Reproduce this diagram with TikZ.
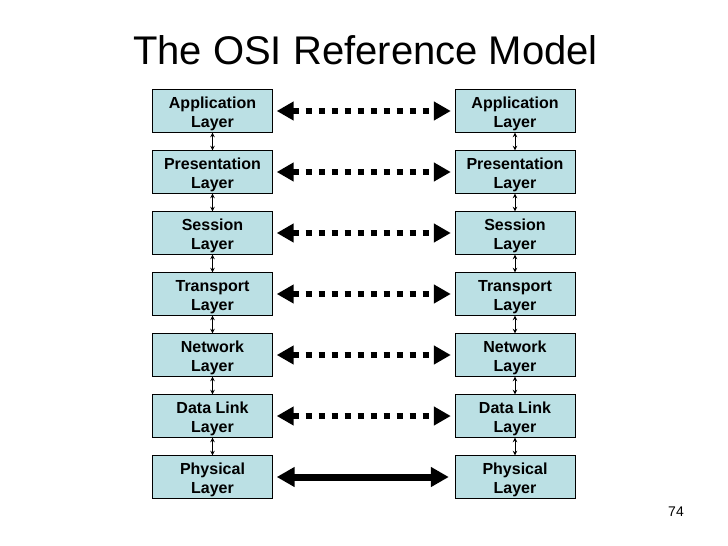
\documentclass[tikz,border=0pt]{standalone}
\usepackage{fontspec}
\setmainfont{Liberation Sans}
\usetikzlibrary{arrows.meta}
\definecolor{layerblue}{RGB}{187,224,228}
\tikzset{
 layer/.style={draw=black,fill=layerblue,minimum width=120pt,minimum height=43pt,inner sep=0pt},
 layertext/.style={align=center,inner sep=0pt,font=\fontsize{16}{19}\selectfont\bfseries},
 peer/.style={line width=6.5pt,dash pattern=on 6.5pt off 6.5pt,
   {Triangle[length=17pt,width=18pt]}-{Triangle[length=17pt,width=18pt]}},
 wire/.style={line width=7pt,
   {Triangle[length=18pt,width=19pt]}-{Triangle[length=18pt,width=19pt]}},
 stack/.style={line width=0.9pt,{Stealth[length=4.5pt,width=4.5pt]}-{Stealth[length=4.5pt,width=4.5pt]}}
}
\begin{document}
\begin{tikzpicture}[x=1pt,y=-1pt]
 \useasboundingbox[fill=white] (0,0) rectangle (728,546);
 \node[font=\fontsize{40}{48}\selectfont,anchor=base] (title) at (365.5,64) {The OSI Reference Model};
 % layers on both sides
 \foreach \n/\txt [count=\i from 0] in {app/Application,pres/Presentation,sess/Session,trans/Transport,net/Network,dl/Data Link,phys/Physical}{
  \node[layer] (l\n) at (212.5,111+61*\i) {};
  \node[layertext] (l\n txt) at ([yshift=-3pt]l\n.center) {\txt\\Layer};
  \node[layer] (r\n) at (515,111+61*\i) {};
  \node[layertext] (r\n txt) at ([yshift=-3pt]r\n.center) {\txt\\Layer};
 }
 % up and down the stack
 \foreach \a/\b in {app/pres,pres/sess,sess/trans,trans/net,net/dl,dl/phys}{
  \draw[stack] (l\a) -- (l\b);
  \draw[stack] (r\a) -- (r\b);
 }
 % peer to peer
 \foreach \n in {app,pres,sess,trans,net,dl}
  \draw[peer] ([xshift=4pt]l\n.east) -- ([xshift=-4pt]r\n.west);
 \draw[wire] ([xshift=4pt]lphys.east) -- ([xshift=-6pt]rphys.west);
 \node[font=\fontsize{14}{16}\selectfont] (page) at (676,512) {74};
\end{tikzpicture}
\end{document}
